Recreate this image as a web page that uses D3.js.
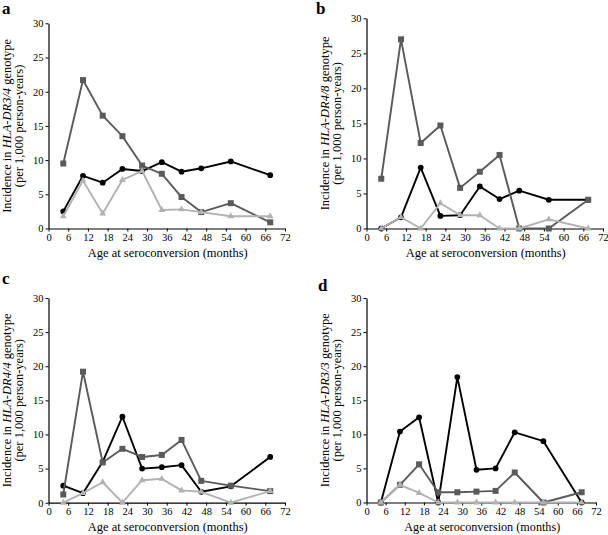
<!DOCTYPE html>
<html>
<head>
<meta charset="utf-8">
<script src="https://cdn.jsdelivr.net/npm/d3@7"></script>
<style>
  html, body { margin: 0; padding: 0; background: #fff; }
  svg { display: block; }
  svg text { font-family: "Liberation Serif", "Times New Roman", serif; }
</style>
</head>
<body>
<svg id="chart" width="608" height="535"></svg>
<script>
// ---- data ----
const months = [4.5, 10.5, 16.5, 22.5, 28.5, 34.5, 40.5, 46.5, 55.5, 67.5];
const xTicks = [0, 6, 12, 18, 24, 30, 36, 42, 48, 54, 60, 66, 72];
const yTicks = [0, 5, 10, 15, 20, 25, 30];
const panelLetters = ["a", "b", "c", "d"];
const genotypes = ["HLA-DR3/4", "HLA-DR4/8", "HLA-DR4/4", "HLA-DR3/3"];
const xTitle = "Age at seroconversion (months)";
const yTitleSecond = "(per 1,000 person-years)";

// series: circle (black), square (dark grey), triangle (light grey)
const aCircle   = [2.5, 7.7, 6.7, 8.7, 8.4, 9.7, 8.3, 8.8, 9.8, 7.8];
const aSquare   = [9.5, 21.7, 16.5, 13.5, 9.2, 8.0, 4.6, 2.4, 3.7, 0.9];
const aTriangle = [1.8, 7.0, 2.2, 7.1, 8.4, 2.7, 2.8, 2.4, 1.8, 1.8];

const bCircle   = [0, 1.6, 8.7, 1.8, 1.9, 6.0, 4.2, 5.4, 4.1, 4.1];
const bSquare   = [7.1, 27.0, 12.2, 14.7, 5.8, 8.1, 10.5, 0, 0, 4.1];
const bTriangle = [0, 1.6, 0, 3.6, 1.9, 1.9, 0, 0, 1.3, 0];

const cCircle   = [2.5, 1.4, 6.0, 12.6, 5.0, 5.2, 5.5, 1.6, 2.4, 6.7];
const cSquare   = [1.2, 19.2, 5.9, 7.9, 6.7, 7.0, 9.2, 3.2, 2.5, 1.7];
const cTriangle = [0, 1.4, 3.0, 0, 3.3, 3.5, 1.8, 1.6, 0, 1.7];

const dCircle   = [0, 10.4, 12.5, 0, 18.4, 4.8, 5.0, 10.3, 9.0, 0];
const dSquare   = [0, 2.6, 5.6, 1.5, 1.5, 1.6, 1.7, 4.4, 0, 1.5];
const dTriangle = [0, 2.6, 1.4, 0, 0, 0, 0, 0, 0, 0];

const panelSeries = [
  [aCircle, aSquare, aTriangle],
  [bCircle, bSquare, bTriangle],
  [cCircle, cSquare, cTriangle],
  [dCircle, dSquare, dTriangle]
];

// ---- layout (pixels) ----
const layouts = [
  { x0: 48.5,  x1: 285, yB: 228.5, yT: 23.3,  letter: [2, 14],   lab: [7, 19] },
  { x0: 366.5, x1: 603, yB: 228.5, yT: 18.3,  letter: [316, 14], lab: [325, 337] },
  { x0: 48.5,  x1: 285, yB: 502.7, yT: 298,   letter: [2, 284],  lab: [7, 19] },
  { x0: 366.5, x1: 596, yB: 502.5, yT: 298,   letter: [318, 291],lab: [325, 337] }
];

const styles = [
  { color: "#000000", shape: "circle" },
  { color: "#5a5a5a", shape: "square" },
  { color: "#b2b2b2", shape: "triangle" }
];

const SERIF = '"Liberation Serif", "Times New Roman", serif';
const svg = d3.select("#chart");

layouts.forEach((L, pi) => {
  const x = d3.scaleLinear().domain([0, 72]).range([L.x0, L.x1]);
  const y = d3.scaleLinear().domain([0, 30]).range([L.yB, L.yT]);
  const g = svg.append("g");

  // axes
  const xAxis = d3.axisBottom(x).tickValues(xTicks).tickSize(3).tickSizeOuter(0);
  const yAxis = d3.axisLeft(y).tickValues(yTicks).tickSize(3).tickSizeOuter(0);

  const gx = g.append("g").attr("transform", `translate(0,${L.yB})`).call(xAxis);
  const gy = g.append("g").attr("transform", `translate(${L.x0},0)`).call(yAxis);
  [gx, gy].forEach(ax => {
    ax.attr("font-family", SERIF);
    ax.select(".domain").attr("stroke", "#000").attr("stroke-width", 1.2);
    ax.selectAll(".tick line").attr("stroke", "#000").attr("stroke-width", 1);
    ax.selectAll(".tick text")
      .attr("font-family", SERIF)
      .attr("font-size", 10.5).attr("fill", "#000");
  });
  gx.selectAll(".tick text").attr("dy", "0.9em").attr("y", 3);
  gy.selectAll(".tick text").attr("x", -5);

  // x title
  g.append("text")
    .attr("x", (L.x0 + L.x1) / 2 + 1)
    .attr("y", L.yB + 28)
    .attr("text-anchor", "middle")
    .attr("font-family", SERIF)
    .attr("font-size", (L.x1 - L.x0) < 236 ? 12.2 : 12.5)
    .text(xTitle);

  // y title (two lines)
  const cy = (L.yB + L.yT) / 2;
  const t1 = g.append("text")
    .attr("transform", `translate(${L.lab[0] + 4},${cy}) rotate(-90)`)
    .attr("text-anchor", "middle")
    .attr("font-family", SERIF)
    .attr("font-size", 12.5);
  t1.append("tspan").text("Incidence in ");
  t1.append("tspan").attr("font-style", "italic").text(genotypes[pi]);
  t1.append("tspan").text(" genotype");
  g.append("text")
    .attr("transform", `translate(${L.lab[1] + 4},${cy}) rotate(-90)`)
    .attr("text-anchor", "middle")
    .attr("font-family", SERIF)
    .attr("font-size", 12.5)
    .text(yTitleSecond);

  // panel letter
  g.append("text")
    .attr("x", L.letter[0]).attr("y", L.letter[1])
    .attr("font-family", SERIF)
    .attr("font-size", 17).attr("font-weight", "bold")
    .text(panelLetters[pi]);

  // series
  const line = d3.line().x((d, i) => x(months[i])).y(d => y(d));
  panelSeries[pi].forEach((vals, si) => {
    const st = styles[si];
    g.append("path")
      .datum(vals)
      .attr("d", line)
      .attr("fill", "none")
      .attr("stroke", st.color)
      .attr("stroke-width", 1.9)
      .attr("stroke-linejoin", "round");
    const mk = g.append("g").selectAll("path").data(vals).join("path")
      .attr("fill", st.color)
      .attr("transform", (d, i) => `translate(${x(months[i])},${y(d)})`);
    if (st.shape === "circle") {
      mk.attr("d", d3.symbol(d3.symbolCircle, 26)());
    } else if (st.shape === "square") {
      mk.attr("d", "M-3,-3H3V3H-3Z");
    } else {
      mk.attr("d", d3.symbol(d3.symbolTriangle, 20)());
    }
  });
});
</script>
</body>
</html>
